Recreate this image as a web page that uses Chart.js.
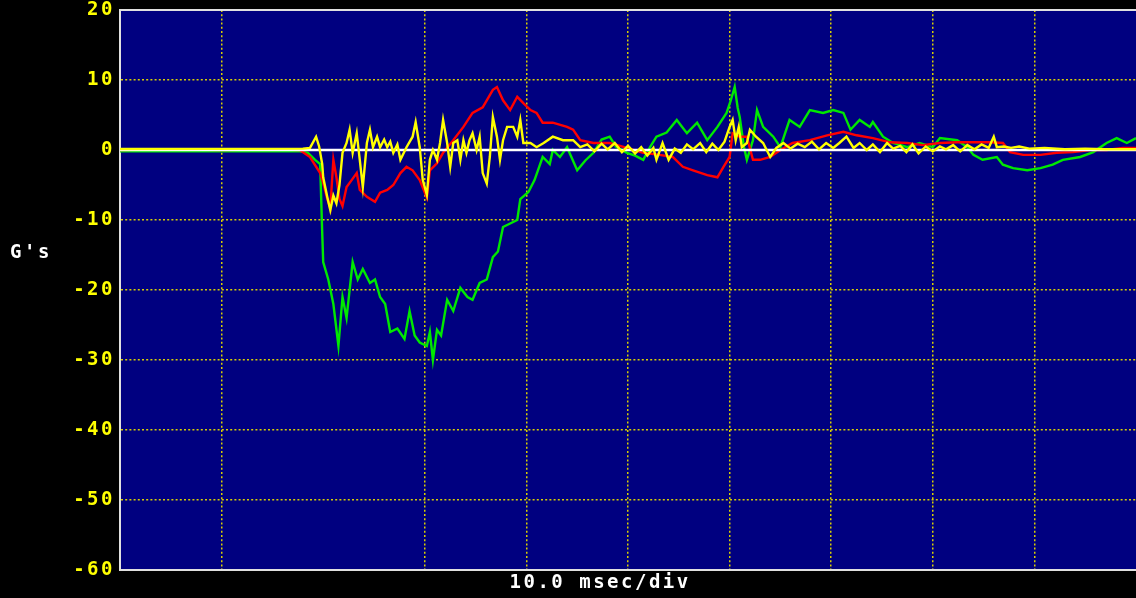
<!DOCTYPE html>
<html>

<head>
  <meta charset="UTF-8">
  <meta name="viewport" content="width=device-width, initial-scale=1.0">
  <script src="https://cdn.jsdelivr.net/npm/chart.js"></script>
  <title>G's - 10.0 msec/div</title>
  <style>
    html,
    body {
      margin: 0;
      padding: 0;
      background: #000;
      overflow: hidden;
    }

    #grafico {
      display: block;
    }
  </style>
</head>

<body>
  <canvas id="grafico" width="1136" height="598"></canvas>
</body>

</html>

<script>
  // tempo em ms (10 ms por divisao) e aceleracao em G's
  var yTicks = [20, 10, 0, -10, -20, -30, -40, -50, -60];
  var xTicks = [0, 10, 20, 30, 40, 50, 60, 70, 80, 90, 100];

  var redT = [0, 5, 10, 15, 17.7, 18.7, 19.7, 20.0, 20.4, 20.7, 21.0, 21.3, 21.6, 21.9, 22.3, 22.8, 23.3, 23.6, 24.3, 25.1,
    25.6, 26.3, 26.9, 27.6, 28.2, 28.8, 29.5, 30.2, 30.5, 31.2, 31.8, 32.8, 33.8, 34.7, 35.7, 36.1, 36.7, 37.1, 37.7, 38.4,
    39.1, 39.7, 40.4, 41.0, 41.6, 42.6, 44.0, 44.6, 45.3, 46.6, 48.2, 49.9, 51.5, 53.1, 54.4, 55.4, 56.4, 57.8, 58.8, 59.4,
    60.0, 60.3, 61.0, 61.7, 62.3, 63.0, 64.0, 65.0, 66.2, 67.9, 69.6, 71.2, 72.5, 74.1, 75.8, 77.5, 79.0, 80.7, 82.4, 85.6,
    86.9, 87.6, 88.9, 90.6, 92.2, 93.8, 95.5, 97.1, 98.7, 100];
  var redG = [0, 0.1, 0, 0.1, 0, -1, -3.3, -4.7, -7, -8.3, -1.4, -3.9, -7, -8, -5.3, -4.3, -3.3, -5.7, -6.7, -7.4,
    -6.1, -5.7, -5, -3.3, -2.4, -2.9, -4.3, -6.8, -2.9, -1.9, -0.4, 1.4, 3.3, 5.3, 6.1, 7.1, 8.6, 9, 7.1, 5.7,
    7.6, 6.7, 5.7, 5.3, 3.9, 3.9, 3.3, 2.9, 1.4, 1.0, 1.0, 0.3, -0.4, -0.7, -1, -2.4, -2.9, -3.6, -3.9, -2.4,
    -1, 2.4, 1.9, 1.9, -1.4, -1.4, -1, 0, 1, 1.4, 2.1, 2.6, 2.1, 1.7, 1.1, 1.0, 0.7, 1.0, 1.1, 1.1,
    1.0, -0.3, -0.7, -0.7, -0.4, -0.3, 0, 0, 0.3, 0.3];

  var greenT = [0, 10, 17.7, 18.5, 19.2, 19.7, 19.9, 20.0, 20.5, 21.0, 21.5, 21.9, 22.3, 22.9, 23.4, 23.9, 24.6, 25.1, 25.6, 26.1,
    26.6, 27.3, 28.0, 28.5, 29.0, 29.5, 30.2, 30.5, 30.8, 31.2, 31.6, 32.2, 32.8, 33.5, 34.2, 34.7, 35.4, 36.1, 36.7, 37.2,
    37.7, 38.4, 39.1, 39.4, 40.2, 40.8, 41.6, 42.3, 42.6, 43.3, 44.0, 45.0, 45.8, 46.6, 47.4, 48.2, 48.8, 49.9, 50.7, 51.5,
    52.2, 52.8, 53.8, 54.8, 55.8, 56.8, 57.8, 58.8, 59.7, 60.1, 60.5, 60.8, 61.0, 61.4, 61.7, 62.3, 62.7, 63.3, 64.3, 65.0,
    65.9, 66.9, 67.9, 69.2, 70.2, 71.2, 71.9, 72.8, 73.8, 74.1, 75.1, 76.1, 77.5, 78.7, 80.0, 80.7, 82.4, 83.4, 84.0, 84.9,
    86.3, 86.9, 87.9, 89.3, 90.6, 91.8, 92.8, 94.5, 95.8, 97.1, 98.1, 99.1, 100];
  var greenG = [-0.2, -0.2, -0.2, -0.4, -1.4, -2, -11.7, -16, -18.5, -22, -28, -21, -24, -16, -18.5, -17, -19, -18.5, -21, -22,
    -26, -25.5, -27, -23, -26.5, -27.5, -28, -26, -30, -25.7, -26.5, -21.4, -23, -19.7, -21, -21.4, -19, -18.5, -15.3, -14.5,
    -11, -10.5, -10, -7, -6, -4.3, -1, -2, 0, -1, 0.4, -2.9, -1.5, -0.4, 1.5, 1.9, 0.5, -0.4, -0.8, -1.4,
    0.5, 1.9, 2.5, 4.3, 2.4, 3.9, 1.4, 3.3, 5.3, 7, 9, 6, 4.7, 0.5, -1.4, 1.4, 5.7, 3.3, 1.9, 0.4,
    4.3, 3.3, 5.7, 5.3, 5.7, 5.3, 2.9, 4.3, 3.3, 4, 1.9, 1, 0.4, 1, 0.4, 1.7, 1.4, 0.4, -0.7, -1.4,
    -1, -2.1, -2.6, -2.9, -2.6, -2.1, -1.4, -1, -0.3, 1, 1.7, 1, 1.7];

  var yellowT = [0, 18.0, 18.7, 19.3, 19.6, 19.9, 20.0, 20.4, 20.7, 21.0,
    21.3, 21.6, 21.9, 22.3, 22.6, 22.9, 23.3, 23.6, 23.9, 24.3,
    24.6, 24.9, 25.3, 25.6, 26.0, 26.3, 26.6, 26.9, 27.3, 27.6,
    28.2, 28.8, 29.1, 29.5, 29.8, 30.2, 30.5, 30.8, 31.2, 31.5,
    31.8, 32.2, 32.5, 32.8, 33.2, 33.5, 33.8, 34.1, 34.4, 34.7,
    35.1, 35.4, 35.7, 36.1, 36.4, 36.7, 37.1, 37.4, 37.7, 38.1,
    38.7, 39.1, 39.4, 39.7, 40.4, 41.0, 41.7, 42.6, 43.6, 44.6,
    45.3, 46.0, 46.7, 47.4, 48.0, 48.7, 49.4, 50.0, 50.7, 51.3,
    51.9, 52.5, 52.8, 53.4, 54.0, 54.6, 55.2, 55.8, 56.4, 57.1,
    57.7, 58.3, 58.9, 59.5, 60.0, 60.3, 60.6, 60.9, 61.2, 61.7,
    62.0, 62.6, 63.3, 64.0, 64.6, 65.3, 66.0, 66.7, 67.4, 68.1,
    68.8, 69.5, 70.2, 70.8, 71.5, 72.2, 72.8, 73.5, 74.1, 74.8,
    75.5, 76.1, 76.8, 77.4, 78.0, 78.6, 79.3, 80.0, 80.7, 81.3,
    82.0, 82.7, 83.4, 84.1, 84.8, 85.5, 86.0, 86.3, 87.0, 87.7,
    88.5, 89.5, 91, 93, 95, 97, 100];
  var yellowG = [0.15, 0.2, 0.3, 1.9, 0.5, -2, -3.9, -6.7, -8.6, -6.5,
    -7.6, -5, -0.4, 1, 2.9, -0.4, 2.4, -1.4, -5.3, 1,
    2.9, 0.4, 1.9, 0.4, 1.5, 0.4, 1.2, -0.4, 0.8, -1.4,
    0.4, 1.9, 4, 0.4, -4.3, -6.4, -1.4, 0, -1.4, 1,
    4.3, 1, -2.4, 1, 1.4, -1.4, 1.4, -0.4, 1.4, 2.4,
    0, 1.9, -3.3, -4.8, -1, 4.7, 1.9, -1.4, 1.4, 3.3,
    3.3, 1.9, 4.3, 1, 1, 0.4, 1, 1.9, 1.4, 1.4,
    0.4, 0.8, -0.2, 0.9, 0.1, 1.0, -0.3, 0.6, -0.5, 0.4,
    -0.8, 0.3, -1.4, 1, -1.4, 0.2, -0.4, 0.8, 0.1, 1.0,
    -0.3, 0.9, 0, 1.2, 3.3, 4.3, 1.4, 3.3, 0.4, 1,
    2.9, 1.9, 1, -1, 0.3, 1, 0.2, 0.9, 0.4, 1.2,
    0.1, 1.0, 0.3, 1.0, 1.9, 0.3, 1.0, 0, 0.8, -0.3,
    1.0, 0.2, 0.6, -0.3, 0.8, -0.5, 0.5, -0.2, 0.5, 0.1,
    0.7, -0.2, 0.7, 0.1, 0.8, 0.3, 1.9, 0.4, 0.5, 0.3,
    0.5, 0.2, 0.3, 0.1, 0.2, 0.1, 0.1];

  // linha de referencia branca em 0 G
  var whiteT = [0, 100];
  var whiteG = [0, 0];

  var fonteMono = '"DejaVu Sans Mono", "Liberation Mono", monospace';

  function pares(t, g) {
    var out = [];
    for (var i = 0; i < t.length; i++) {
      out.push({ x: t[i], y: g[i] });
    }
    return out;
  }

  function serie(t, g, cor) {
    return {
      data: pares(t, g),
      borderColor: cor,
      borderWidth: 2.4,
      pointRadius: 0,
      tension: 0,
      fill: false
    };
  }

  // sem folga automatica das escalas: a area do grafico fica fixa
  function semFolga(s) {
    s.paddingTop = 0;
    s.paddingBottom = 0;
    s.paddingLeft = 0;
    s.paddingRight = 0;
  }

  // fundo preto, area azul, texto "G's" na horizontal
  var fundo = {
    id: 'fundo',
    beforeDraw: function (chart) {
      var ctx = chart.ctx;
      var a = chart.chartArea;
      ctx.save();
      ctx.fillStyle = '#000000';
      ctx.fillRect(0, 0, chart.width, chart.height);
      ctx.fillStyle = '#000080';
      ctx.fillRect(a.left, a.top, a.right - a.left, a.bottom - a.top);
      ctx.restore();
      ctx.letterSpacing = '2.5px';
    },
    afterDraw: function (chart) {
      var ctx = chart.ctx;
      ctx.save();
      ctx.letterSpacing = '2.5px';
      ctx.font = 'bold 19px ' + fonteMono;
      ctx.fillStyle = '#ffffff';
      ctx.textAlign = 'left';
      ctx.textBaseline = 'middle';
      ctx.fillText("G's", 10, 253);
      ctx.restore();
    }
  };

  var corGrade = function (ctx) {
    var v = ctx.tick ? ctx.tick.value : null;
    if (v === 20 || v === -60 || v === 0 && ctx.scale.axis === 'x' || v === 100) return 'rgba(0,0,0,0)';
    return '#d8d000';
  };

  var config = {
    type: 'line',
    data: {
      datasets: [
        serie(yellowT, yellowG, '#ffff00'),
        serie(whiteT, whiteG, '#ffffff'),
        serie(redT, redG, '#ff0000'),
        serie(greenT, greenG, '#00e800')
      ]
    },
    options: {
      responsive: false,
      animation: false,
      events: [],
      layout: { padding: 0 },
      plugins: {
        legend: { display: false },
        tooltip: { enabled: false }
      },
      scales: {
        x: {
          type: 'linear',
          position: 'bottom',
          min: 0,
          max: 100,
          afterBuildTicks: function (s) {
            s.ticks = xTicks.map(function (v) { return { value: v }; });
          },
          afterFit: function (s) { s.height = 28; semFolga(s); },
          ticks: { display: false },
          grid: { color: corGrade, lineWidth: 1.5, drawTicks: false },
          border: { display: true, color: '#e0e0e0', width: 2, dash: [2, 2.2] },
          title: {
            display: true,
            text: '10.0 msec/div    ',
            color: '#ffffff',
            font: { family: fonteMono, size: 19, weight: 'bold' },
            padding: { top: 0, bottom: 4 }
          }
        },
        topo: {
          type: 'linear',
          position: 'top',
          min: 0,
          max: 100,
          afterFit: function (s) { s.height = 10; semFolga(s); },
          ticks: { display: false },
          grid: { display: false, drawTicks: false },
          border: { display: true, color: '#e0e0e0', width: 2 }
        },
        y: {
          type: 'linear',
          position: 'left',
          min: -60,
          max: 20,
          afterBuildTicks: function (s) {
            s.ticks = yTicks.map(function (v) { return { value: v }; });
          },
          afterFit: function (s) { s.width = 120; semFolga(s); },
          ticks: {
            color: '#ffff00',
            padding: 5,
            font: { family: fonteMono, size: 19, weight: 'bold' }
          },
          grid: { color: corGrade, lineWidth: 1.5, drawTicks: false },
          border: { display: true, color: '#e0e0e0', width: 2, dash: [2, 2.2] }
        }
      }
    },
    plugins: [fundo]
  };

  var grafico = new Chart(document.getElementById('grafico'), config);
</script>
